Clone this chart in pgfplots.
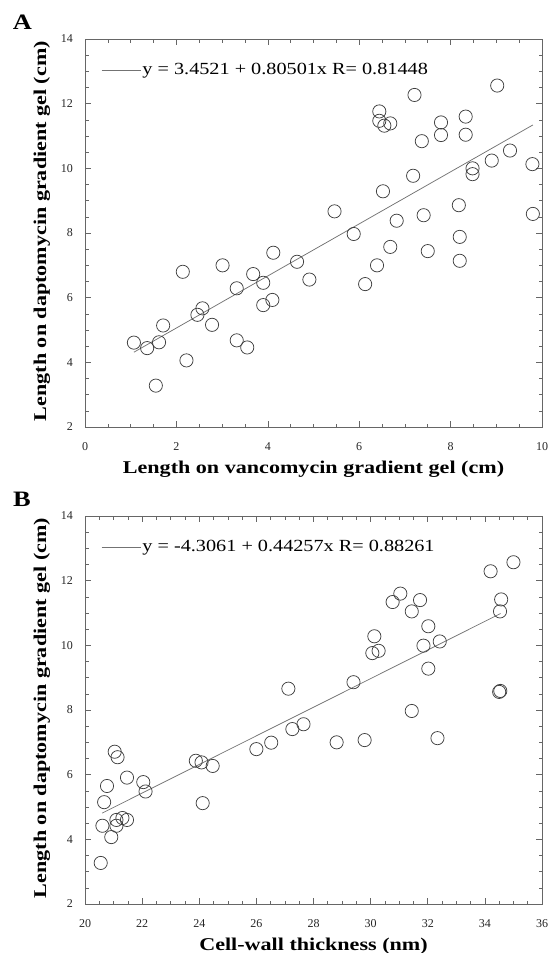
\documentclass[border=0pt]{standalone}
\usepackage{fontspec}
\setmainfont{Liberation Serif}
\usepackage{pgfplots}
\pgfplotsset{compat=1.18}
\definecolor{framegray}{gray}{0.4}
\definecolor{markgray}{gray}{0.25}
\definecolor{linegray}{gray}{0.45}

\pgfplotstableread{
x y
1.07 4.61
1.36 4.44
1.55 3.28
1.62 4.62
1.71 5.14
2.14 6.80
2.22 4.06
2.46 5.47
2.57 5.67
2.78 5.16
3.01 7.00
3.32 6.29
3.32 4.68
3.55 4.46
3.68 6.73
3.90 6.46
3.90 5.77
4.10 5.93
4.12 7.39
4.64 7.11
4.91 6.56
5.46 8.67
5.88 7.97
6.13 6.42
6.39 7.00
6.68 7.57
6.82 8.38
6.44 11.76
6.44 11.47
6.55 11.32
6.68 11.39
6.52 9.29
7.18 9.77
7.21 12.27
7.37 10.84
7.41 8.55
7.50 7.44
7.79 11.42
7.79 11.03
8.18 8.86
8.20 7.88
8.20 7.14
8.33 11.60
8.33 11.04
8.48 10.00
8.48 9.82
8.90 10.24
9.02 12.56
9.30 10.55
9.79 10.13
9.80 8.59
}\dataA

\pgfplotstableread{
x y
35.00 12.57
34.20 12.29
31.04 11.60
30.77 11.34
31.73 11.40
31.44 11.05
34.57 11.42
34.53 11.05
32.02 10.59
30.13 10.28
30.06 9.76
30.28 9.83
31.85 9.99
32.42 10.12
32.02 9.28
29.40 8.86
27.12 8.66
34.54 8.59
34.50 8.56
31.44 7.97
32.34 7.13
29.79 7.07
28.81 7.00
27.65 7.56
27.26 7.41
26.52 6.99
26.00 6.79
24.47 6.27
24.08 6.38
23.88 6.43
24.12 5.12
22.12 5.48
22.04 5.77
21.47 5.91
21.04 6.71
21.14 6.54
20.77 5.65
20.67 5.15
20.61 4.42
21.31 4.66
21.47 4.60
21.10 4.60
21.10 4.42
20.92 4.07
20.55 3.27
}\dataB

\pgfplotsset{
  myaxis/.style={
    scale only axis, width=457pt, height=388pt,
    ymin=2, ymax=14, ytick={2,4,...,14},
    minor tick num=3,
    tick align=inside,
    xtick pos=both, ytick pos=both,
    major tick length=6pt, minor tick length=3.5pt,
    axis line style={framegray, line width=0.7pt},
    every tick/.style={framegray, line width=0.6pt},
    tick label style={font=\fontsize{12}{14}\selectfont, black!85},
    /pgf/number format/assume math mode=true,
    yticklabel style={xshift=-8.5pt},
    xticklabel style={yshift=-12pt},
    xlabel style={at={(axis description cs:0.5,-0.1211)}, anchor=base, font=\fontsize{18}{20}\selectfont\bfseries},
    ylabel style={at={(axis description cs:-0.0853,0.505)}, anchor=base, rotate=0, font=\fontsize{18}{20}\selectfont\bfseries},
    legend style={at={(axis description cs:0.035,0.920)}, anchor=west, draw=none, fill=none,
      inner sep=0pt, font=\fontsize{17}{19}\selectfont, nodes={inner sep=1.5pt}},
    legend image code/.code={\draw[#1] (0pt,0pt) -- (39pt,0pt);},
    legend cell align=left,
  }
}

\begin{document}
\begin{tikzpicture}
\useasboundingbox (0pt,0pt) rectangle (548pt,-953pt);
\node[font=\fontsize{22}{24}\selectfont\bfseries] at (22.5pt,-22.5pt) {\scalebox{1.2}[1]{A}};
\node[font=\fontsize{22}{24}\selectfont\bfseries] at (22pt,-499.5pt) {\scalebox{1.2}[1]{B}};

\begin{axis}[myaxis, at={(85pt,-427pt)}, anchor=south west,
  xmin=0, xmax=10, xtick={0,2,...,10},
  xlabel={\scalebox{1.228}[1]{Length on vancomycin gradient gel (cm)}},
  ylabel={\scalebox{1.228}[1]{Length on daptomycin gradient gel (cm)}}]
\addplot[only marks, mark=o, mark size=6.6pt, mark options={draw=markgray, line width=0.75pt}, forget plot] table {\dataA};
\addplot[linegray, line width=0.75pt] coordinates {(1.07,4.3135) (9.8,11.3412)};
\addlegendentry{\scalebox{1.19}[1]{y = 3.4521 + 0.80501x R= 0.81448}}
\end{axis}

\begin{axis}[myaxis, at={(85pt,-904pt)}, anchor=south west,
  xmin=20, xmax=36, xtick={20,22,...,36},
  xlabel={\scalebox{1.228}[1]{Cell-wall thickness (nm)}},
  ylabel={\scalebox{1.228}[1]{Length on daptomycin gradient gel (cm)}}]
\addplot[only marks, mark=o, mark size=6.6pt, mark options={draw=markgray, line width=0.75pt}, forget plot] table {\dataB};
\addplot[linegray, line width=0.75pt] coordinates {(20.6,4.8108) (34.55,10.9847)};
\addlegendentry{\scalebox{1.19}[1]{y = -4.3061 + 0.44257x R= 0.88261}}
\end{axis}
\end{tikzpicture}
\end{document}
